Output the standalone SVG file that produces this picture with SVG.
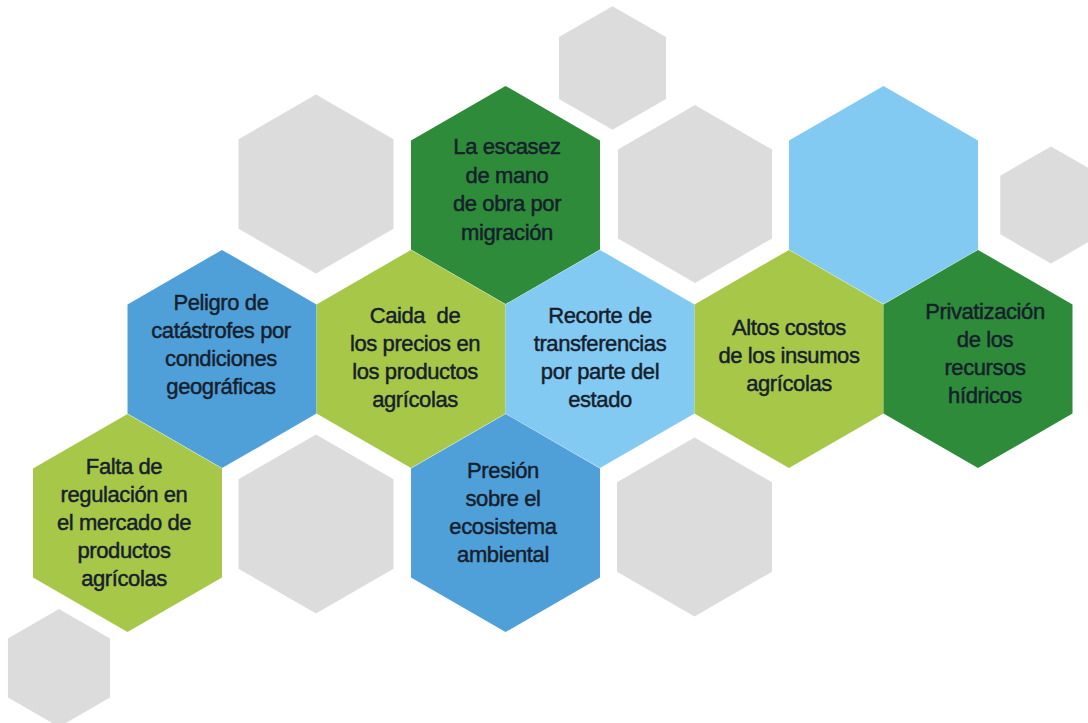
<svg xmlns="http://www.w3.org/2000/svg" xmlns:xlink="http://www.w3.org/1999/xlink" width="1088" height="723" viewBox="0 0 1088 723">
  <style>
    .gray { fill: #dcdcdc; }
    .dgreen { fill: #2e8b39; }
    .lgreen { fill: #a6c748; }
    .blue { fill: #4fa0d9; }
    .lblue { fill: #82caf2; }
    .lbl { font-family: "Liberation Sans", Arial, sans-serif; font-size: 22px; letter-spacing: -0.4px; fill: #16202c; stroke: #16202c; stroke-width: 0.45px; text-anchor: middle; white-space: pre; }
  </style>
  <defs>
    <polygon id="hex" points="0,-109.1 94.5,-54.55 94.5,54.55 0,109.1 -94.5,54.55 -94.5,-54.55"/>
  </defs>
  <rect width="1088" height="723" fill="#ffffff"/>

  <g id="gray-hexes">
    <use href="#hex" class="gray" transform="translate(612.5,68) scale(0.566)"/>
    <use href="#hex" class="gray" transform="translate(316,184) scale(0.82)"/>
    <use href="#hex" class="gray" transform="translate(695,194) scale(0.815)"/>
    <use href="#hex" class="gray" transform="translate(1051,205) scale(0.537)"/>
    <use href="#hex" class="gray" transform="translate(316,524) scale(0.82)"/>
    <use href="#hex" class="gray" transform="translate(694.5,527) scale(0.82)"/>
    <use href="#hex" class="gray" transform="translate(59,668) scale(0.54)"/>
  </g>

  <g id="connectors"></g>

  <g id="node-escasez">
    <use href="#hex" class="dgreen" transform="translate(505.5,195)"/>
    <text class="lbl"><tspan x="507" y="154">La escasez</tspan><tspan x="507" y="183">de mano</tspan><tspan x="507" y="211">de obra por</tspan><tspan x="507" y="240">migración</tspan></text>
  </g>
  <g id="node-lightblue">
    <use href="#hex" class="lblue" transform="translate(883.5,195)"/>
  </g>
  <g id="node-peligro">
    <use href="#hex" class="blue" transform="translate(222,359)"/>
    <text class="lbl"><tspan x="221" y="310">Peligro de</tspan><tspan x="221" y="338">catástrofes por</tspan><tspan x="221" y="366">condiciones</tspan><tspan x="221" y="394">geográficas</tspan></text>
  </g>
  <g id="node-caida">
    <use href="#hex" class="lgreen" transform="translate(411,359)"/>
    <text class="lbl"><tspan x="415" y="323">Caida  de</tspan><tspan x="415" y="351">los precios en</tspan><tspan x="415" y="379">los productos</tspan><tspan x="415" y="407">agrícolas</tspan></text>
  </g>
  <g id="node-recorte">
    <use href="#hex" class="lblue" transform="translate(600,359)"/>
    <text class="lbl"><tspan x="600" y="323">Recorte de</tspan><tspan x="600" y="351">transferencias</tspan><tspan x="600" y="379">por parte del</tspan><tspan x="600" y="407">estado</tspan></text>
  </g>
  <g id="node-altos">
    <use href="#hex" class="lgreen" transform="translate(789,359)"/>
    <text class="lbl"><tspan x="789" y="335">Altos costos</tspan><tspan x="789" y="363">de los insumos</tspan><tspan x="789" y="391">agrícolas</tspan></text>
  </g>
  <g id="node-privatizacion">
    <use href="#hex" class="dgreen" transform="translate(978,359)"/>
    <text class="lbl"><tspan x="985" y="319">Privatización</tspan><tspan x="985" y="347">de los</tspan><tspan x="985" y="375">recursos</tspan><tspan x="985" y="403">hídricos</tspan></text>
  </g>
  <g id="node-falta">
    <use href="#hex" class="lgreen" transform="translate(127.5,523)"/>
    <text class="lbl"><tspan x="124" y="474">Falta de</tspan><tspan x="124" y="502">regulación en</tspan><tspan x="124" y="530">el mercado de</tspan><tspan x="124" y="558">productos</tspan><tspan x="124" y="586">agrícolas</tspan></text>
  </g>
  <g id="node-presion">
    <use href="#hex" class="blue" transform="translate(505.5,523)"/>
    <text class="lbl"><tspan x="503" y="478">Presión</tspan><tspan x="503" y="506">sobre el</tspan><tspan x="503" y="534">ecosistema</tspan><tspan x="503" y="562">ambiental</tspan></text>
  </g>
</svg>
